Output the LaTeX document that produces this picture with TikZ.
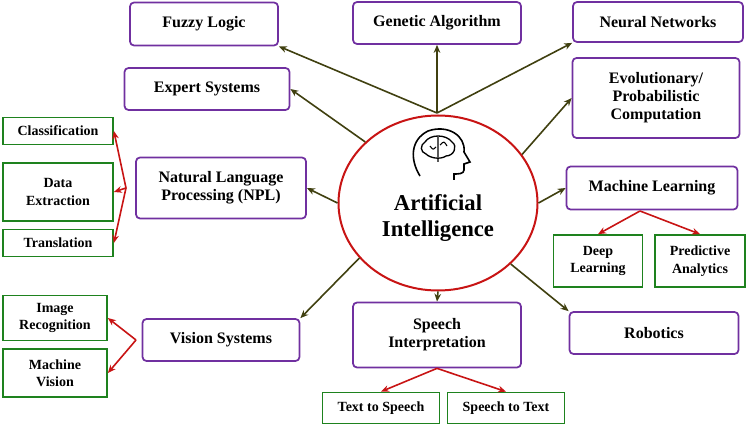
\documentclass[tikz,border=0pt]{standalone}
\usepackage{fontspec}
\setmainfont{Liberation Serif}
\usetikzlibrary{shapes.geometric,arrows.meta}
\definecolor{pur}{RGB}{112,48,160}
\definecolor{grn}{RGB}{30,130,30}
\definecolor{olv}{RGB}{64,64,16}
\definecolor{rd}{RGB}{200,20,20}
\begin{document}
\begin{tikzpicture}[x=0.75pt,y=-0.75pt,
 pbox/.style={draw=pur,line width=1.3pt,rounded corners=3pt,align=center,font=\bfseries\fontsize{12}{13.5}\selectfont,inner sep=0pt},
 gbox/.style={draw=grn,line width=1.3pt,align=center,font=\bfseries\fontsize{10.5}{13}\selectfont,inner sep=0pt},
 oa/.style={draw=olv,line width=1.2pt,-{Stealth[length=6pt,width=5pt]}},
 ra/.style={draw=rd,line width=1.2pt,-{Stealth[length=6pt,width=5pt]}}]
\useasboundingbox (0,0) rectangle (752,427);
\node[ellipse,draw=rd,line width=1.5pt,minimum width=199pt*0.75,minimum height=175pt*0.75,inner sep=0pt] (ai) at (438,203) {};
\node[font=\bfseries\fontsize{17}{20}\selectfont,align=center] (ait) at (438,218) {Artificial\\Intelligence};
% head icon
\draw[line width=1.2pt] (420,176) .. controls (410,160) and (410,140) .. (428,131) .. controls (448,124) and (466,136) .. (464,152) -- (470,162) -- (464,164) -- (464,170) .. controls (464,174) and (458,174) .. (454,174) -- (454,180);
\draw[line width=1pt] (425,142) .. controls (430,134) and (446,134) .. (452,142) .. controls (458,146) and (454,156) .. (446,156) .. controls (440,160) and (430,158) .. (426,154) .. controls (420,152) and (420,145) .. (425,142);
\draw[line width=0.8pt] (438,137) -- (438,157) (430,146) .. controls (433,150) .. (436,147) (440,145) .. controls (444,141) .. (447,146) (438,162) -- (438,158);
\node[pbox,minimum width=148*0.75pt,minimum height=43*0.75pt] (fl) at (204,24) {Fuzzy Logic};
\node[pbox,minimum width=168*0.75pt,minimum height=42*0.75pt] (ga) at (437,23) {Genetic Algorithm};
\node[pbox,minimum width=170*0.75pt,minimum height=40*0.75pt] (nn) at (658,22) {Neural Networks};
\node[pbox,minimum width=165*0.75pt,minimum height=42*0.75pt] (es) at (207,89) {Expert Systems};
\node[pbox,minimum width=167*0.75pt,minimum height=80*0.75pt] (ev) at (656,98) {Evolutionary/\\Probabilistic\\Computation};
\node[pbox,minimum width=170*0.75pt,minimum height=61*0.75pt] (nlp) at (221,188) {Natural Language\\Processing (NPL)};
\node[pbox,minimum width=171*0.75pt,minimum height=43*0.75pt] (ml) at (652,188) {Machine Learning};
\node[pbox,minimum width=169*0.75pt,minimum height=42*0.75pt] (rb) at (654,333) {Robotics};
\node[pbox,minimum width=168*0.75pt,minimum height=65*0.75pt] (si) at (437,335) {Speech\\Interpretation};
\node[pbox,minimum width=157*0.75pt,minimum height=42*0.75pt] (vs) at (221,340) {Vision Systems};
\node[gbox,minimum width=89*0.75pt,minimum height=52*0.75pt] (dl) at (598,261) {Deep\\Learning};
\node[gbox,minimum width=90*0.75pt,minimum height=52*0.75pt] (pa) at (700,261) {Predictive\\Analytics};
\node[gbox,minimum width=117*0.75pt,minimum height=31*0.75pt] (tts) at (381,408) {Text to Speech};
\node[gbox,minimum width=117*0.75pt,minimum height=31*0.75pt] (stt) at (506,408) {Speech to Text};
\node[gbox,minimum width=104*0.75pt,minimum height=45*0.75pt] (ir) at (55,318) {Image\\Recognition};
\node[gbox,minimum width=104*0.75pt,minimum height=48*0.75pt] (mv) at (55,373) {Machine\\Vision};
\node[gbox,minimum width=110*0.75pt,minimum height=27*0.75pt] (cl) at (58,131) {Classification};
\node[gbox,minimum width=110*0.75pt,minimum height=58*0.75pt] (de) at (58,192) {Data\\Extraction};
\node[gbox,minimum width=110*0.75pt,minimum height=27*0.75pt] (tr) at (58,243) {Translation};
% olive arrows
\coordinate (top) at (437,113);
\draw[oa] (top) -- (ga);
\draw[oa] (top) -- (fl.south east);
\draw[oa] (top) -- (nn.south west);
\draw[oa] (ai.140) -- (es.east);
\draw[oa] (ai.30) -- (ev.west);
\draw[oa] (ai.180) -- (nlp.east);
\draw[oa] (ai.0) -- (ml.west);
\draw[oa] (ai.-40) -- (rb.north west);
\draw[oa] (ai.-90) -- (si.north);
\draw[oa] (ai.-145) -- (vs.north east);
% red arrows
\coordinate (n0) at (126,188);
\draw[ra] (n0) -- (cl.east);
\draw[ra] (n0) -- (de.east);
\draw[ra] (n0) -- (tr.east);
\coordinate (v0) at (136,340);
\draw[ra] (v0) -- (ir.east);
\draw[ra] (v0) -- (mv.east);
\coordinate (m0) at (640,211);
\draw[ra] (m0) -- (dl.north);
\draw[ra] (m0) -- (pa.north);
\draw[ra] (si.south) -- (tts.north);
\draw[ra] (si.south) -- (stt.north);
\end{tikzpicture}
\end{document}
